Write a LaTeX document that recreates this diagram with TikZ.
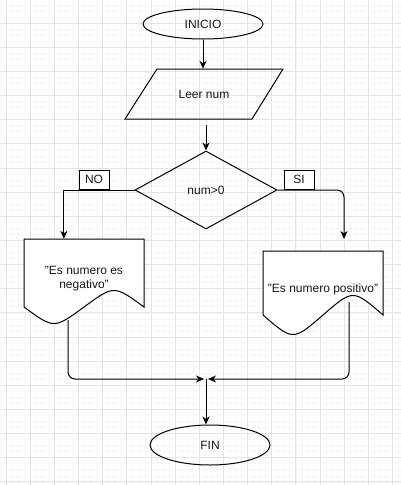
\documentclass[tikz,border=0pt]{standalone}
\usepackage{fontspec}
\setmainfont{Liberation Sans}
\usetikzlibrary{arrows.meta,calc,shapes.geometric}
\definecolor{gridmajor}{RGB}{228,228,228}
\definecolor{gridminor}{RGB}{247,247,247}
\def\docshape(#1,#2)(#3,#4)(#5){\draw[line width=1pt, fill=white] (#1,#2) -- (#3,#2) -- (#3,#4) .. controls ({#3-(#3-#1)/4},{#4-2*#5}) .. ({(#1+#3)/2},#4) .. controls ({#1+(#3-#1)/4},{#4+2*#5}) .. (#1,#4) -- cycle;}
\tikzset{
	txt/.style={font=\fontsize{12}{14}\selectfont, text=black!90, inner sep=0pt},
	flow/.style={line width=1pt, -{Stealth[length=8pt,width=7pt,inset=2.5pt]}},
	tagbox/.style={txt, draw, fill=white, line width=1pt, minimum width=30pt, minimum height=19pt},
}
\begin{document}
\begin{tikzpicture}[x=1pt, y=-1pt]
			%%%%% GRID %%%%%
			\useasboundingbox (0,0) rectangle (401,485);
			\fill[white] (0,0) rectangle (401,485);
			\foreach \i in {-1,...,65} \draw[gridminor, line width=0.6pt] ({6+6.0375*\i},0) -- ({6+6.0375*\i},485);
			\foreach \j in {-4,...,77} \draw[gridminor, line width=0.6pt] (0,{23+6.0375*\j}) -- (401,{23+6.0375*\j});
			\foreach \i in {0,...,16} \draw[gridmajor, line width=0.8pt] ({6+24.15*\i},0) -- ({6+24.15*\i},485);
			\foreach \j in {-1,...,19} \draw[gridmajor, line width=0.8pt] (0,{23+24.15*\j}) -- (401,{23+24.15*\j});
			
			%%%%% START %%%%%
			
			\node[txt, draw, ellipse, line width=1pt, minimum width=120pt, minimum height=30pt] (inicio) at (203,24) {INICIO};
			
			\draw[line width=1pt] (157,69) -- (283,69) -- (252,119) -- (125,119) -- cycle;
			\node[txt, minimum width=126pt, minimum height=50pt] (leer) at (204,94) {Leer num};
			
			\node[txt, draw, diamond, line width=1pt, minimum width=142pt, minimum height=78pt] (cond) at (206,190) {num>0};
			
			\docshape(24,239)(144,307)(11)
			\node[txt, align=center, minimum width=120pt, minimum height=79pt] (neg) at (84,278.5) {"Es numero es\\negativo"};
			
			\docshape(263,251)(383,315)(13)
			\node[txt, minimum width=120pt, minimum height=77pt] (pos) at (323,289.5) {"Es numero positivo"};
			
			\node[txt, draw, ellipse, line width=1pt, minimum width=120pt, minimum height=40pt] (fin) at (210,445) {FIN};
			
			\coordinate (siEnd) at (344,239);
			\coordinate (negOut) at (68,320);
			\coordinate (posOut) at (349,302);
			\coordinate (join) at (206,379);
			
			\draw[flow] (inicio) -- (inicio.south |- leer.north);
			\draw[flow] (cond.north |- leer.south) ++(0,6) -- (cond.north);
			
			\draw[flow] (cond.west) -| ($(neg.north west)!0.333!(neg.north east)$);
			\draw[flow, rounded corners=7pt] (cond.east) -| (siEnd);
			\node[tagbox] (no) at (94,179.5) {NO};
			\node[tagbox] (si) at (299,179.5) {SI};
			
			\draw[flow, rounded corners=7pt] (negOut) |- ([xshift=-2pt]join);
			\draw[flow, rounded corners=7pt] (posOut) |- ([xshift=2pt]join);
			\draw[flow] (join) -- (join |- fin.north);
			
			%%%%% END %%%%%
\end{tikzpicture}
\end{document}
